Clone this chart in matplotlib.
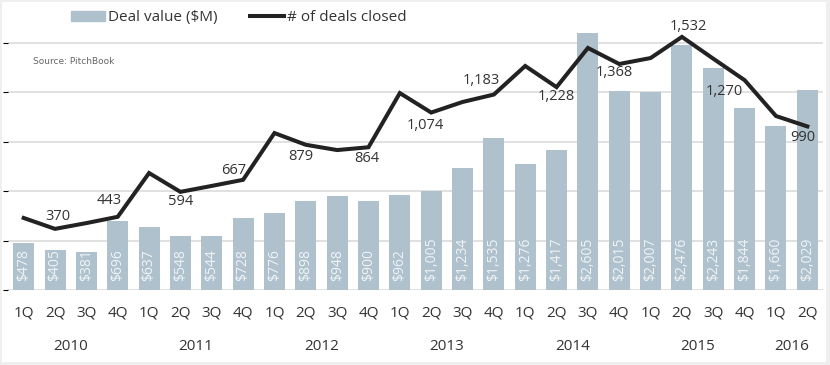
import matplotlib
matplotlib.use("Agg")
import matplotlib.pyplot as plt
from matplotlib.patches import Rectangle, Patch
from matplotlib.lines import Line2D

plt.rcParams['font.family'] = ['Open Sans', 'DejaVu Sans']

quarters = ['1Q', '2Q', '3Q', '4Q'] * 6 + ['1Q', '2Q']
years = ['2010', '2011', '2012', '2013', '2014', '2015', '2016']
deal_value = [478, 405, 381, 696, 637, 548, 544, 728, 776, 898, 948, 900, 962,
              1005, 1234, 1535, 1276, 1417, 2605, 2015, 2007, 2476, 2243, 1844,
              1660, 2029]
deals_closed = [436, 370, 405, 443, 708, 594, 630, 667, 950, 879, 847, 864, 1192,
                1074, 1138, 1183, 1356, 1228, 1465, 1368, 1404, 1532, 1400, 1270,
                1053, 990]

# which line points get a label, and where (pixel offset from the point)
label_offsets = {1: (3, 12), 3: (-9, 16), 5: (0, -10), 7: (-9, 9), 9: (-5, -12),
                 11: (-2, -11), 13: (-6, -13), 15: (-13, 14), 17: (0, -9),
                 19: (-5, -9), 21: (6, 10), 23: (-20, -11), 25: (-5, -11)}

bar_color = '#aec1cd'
text_color = '#333333'

fig = plt.figure(figsize=(8.3, 3.65), dpi=100)
fig.patch.set_facecolor('#efefef')
fig.add_artist(Rectangle((2 / 830, 3 / 365), 824 / 830, 360 / 365,
                         transform=fig.transFigure, facecolor='white',
                         edgecolor='none', zorder=0))

ax = fig.add_axes([8 / 830, 75 / 365, 815 / 830, 285 / 365])
ax.patch.set_alpha(0)
x = list(range(len(deal_value)))

ax.bar(x, deal_value, width=0.67, color=bar_color, zorder=2)
for i, v in enumerate(deal_value):
    ax.annotate('${:,}'.format(v), xy=(i, 0), xytext=(0, 9),
                textcoords='offset pixels', rotation=90, ha='center',
                va='bottom', color='#f0f4f6', fontsize=10, zorder=3)

ax.set_ylim(0, 2885)
ax.set_xlim(-0.5, len(x) - 0.5)
ax.set_yticks([0, 500, 1000, 1500, 2000, 2500])
ax.yaxis.grid(True, color='#d9d9d9', linewidth=1.1)
ax.set_axisbelow(True)
ax.tick_params(axis='y', left=False, labelleft=False)
ax.set_xticks(x)
ax.set_xticklabels(quarters, fontsize=11, color=text_color)
ax.tick_params(axis='x', length=0, pad=11)
for s in ax.spines.values():
    s.set_visible(False)

year_pos = [1.5, 5.5, 9.5, 13.5, 17.5, 21.5, 24.5]
for yp, yr in zip(year_pos, years):
    ax.annotate(yr, xy=(yp, 0), xycoords=ax.get_xaxis_transform(),
                xytext=(0, -56), textcoords='offset pixels', ha='center',
                va='center', fontsize=11, color=text_color)

ax2 = ax.twinx()
ax2.set_ylim(0, 1725)
ax2.plot(x, deals_closed, color='#222222', linewidth=2.9,
         solid_joinstyle='miter', zorder=4)
for i, (dx, dy) in label_offsets.items():
    ax2.annotate('{:,}'.format(deals_closed[i]), xy=(i, deals_closed[i]),
                 xytext=(dx, dy), textcoords='offset pixels', ha='center',
                 va='center', fontsize=10.5, color=text_color)
ax2.axis('off')

handles = [Patch(color=bar_color), Line2D([], [], color='#222222', linewidth=2.9)]
fig.legend(handles, ['Deal value ($M)', '# of deals closed'], ncol=2,
           loc='center', bbox_to_anchor=(0.288, 0.951), frameon=False,
           fontsize=11, handlelength=2.2, handletextpad=0.25,
           columnspacing=2.1, labelcolor=text_color)

fig.text(33 / 830, 1 - 61 / 365, 'Source: PitchBook', fontsize=6.5,
         color='#666666', va='center', family='DejaVu Sans')

fig.savefig('out.png', dpi=100, facecolor=fig.get_facecolor())
